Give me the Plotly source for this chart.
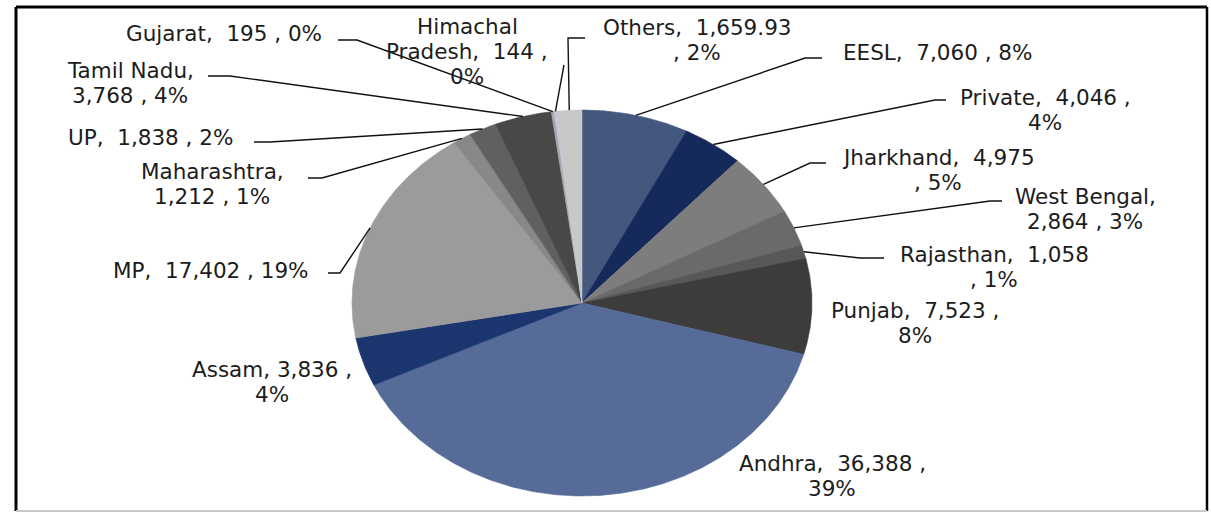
import numpy as np
import plotly.graph_objects as go

# ---- data -------------------------------------------------------------
categories = ["EESL", "Private", "Jharkhand", "West Bengal", "Rajasthan", "Punjab",
              "Andhra", "Assam", "MP", "Maharashtra", "UP", "Tamil Nadu",
              "Gujarat", "Himachal Pradesh", "Others"]
values = [7060, 4046, 4975, 2864, 1058, 7523, 36388, 3836, 17402, 1212, 1838, 3768,
          195, 144, 1659.93]
colors = ["#44587f", "#15295b", "#7d7d7d", "#6a6a6a", "#585858", "#3c3c3c",
          "#566b98", "#1b356f", "#9b9b9b", "#888888", "#606060", "#484848",
          "#a9a9a9", "#c3c8d8", "#c8c8c8"]

# ---- geometry (pixel-like axis space, y grows downward) ----------------
W, H = 1211, 513
CX, CY, RX, RY = 582, 303, 230, 193

# label block centre, text layout and leader path (knee, end) per category
label_layout = {
    "EESL":             dict(c=(937, 52),  t="{n},  {v} , {p}",       lead=[(805, 58), (822, 58)]),
    "Private":          dict(c=(1045, 110), t="{n},  {v} ,<br>{p}",   lead=[(935, 100), (946, 100)]),
    "Jharkhand":        dict(c=(938, 170), t="{n},  {v}<br>, {p}",    lead=[(810, 163), (826, 163)]),
    "West Bengal":      dict(c=(1085, 209), t="{n},<br>{v} , {p}",    lead=[(990, 201), (1002, 201)]),
    "Rajasthan":        dict(c=(994, 267), t="{n},  {v}<br>, {p}",    lead=[(860, 258), (884, 258)]),
    "Punjab":           dict(c=(915, 323), t="{n},  {v} ,<br>{p}",    lead=None),
    "Andhra":           dict(c=(832, 476), t="{n},  {v} ,<br>{p}",    lead=None),
    "Assam":            dict(c=(272, 382), t="{n}, {v} ,<br>{p}",     lead=None),
    "MP":               dict(c=(211, 270), t="{n},  {v} , {p}",       lead=[(340, 273), (328, 273)]),
    "Maharashtra":      dict(c=(212, 184), t="{n},<br>{v} , {p}",     lead=[(322, 178), (308, 178)]),
    "UP":               dict(c=(150, 137), t="{n},  {v} , {p}",       lead=[(270, 142), (254, 142)]),
    "Tamil Nadu":       dict(c=(130, 83),  t="{n},<br>{v} , {p}",     lead=[(230, 76), (208, 76)]),
    "Gujarat":          dict(c=(224, 33),  t="{n},  {v} , {p}",       lead=[(357, 40), (338, 40)]),
    "Himachal Pradesh": dict(c=(467, 51),  t="{n},  {v} ,<br>{p}",    lead=[(564, 65)], wrap_name=True),
    "Others":           dict(c=(697, 40),  t="{n},  {v}<br>, {p}",    lead=[(568, 38), (585, 38)]),
}

FONT = dict(family="DejaVu Sans, Liberation Sans, Arial, sans-serif", size=21.5, color="#1c1c1c")
LINE_GAP = 25


def fmt_value(v):
    s = f"{v:,.2f}"
    return s.rstrip("0").rstrip(".") if "." in s else s


def ellipse_pt(deg):
    a = np.radians(deg)
    return CX + RX * np.sin(a), CY - RY * np.cos(a)


vals = np.array(values, dtype=float)
total = vals.sum()
ends = np.cumsum(vals) / total * 360.0
starts = np.concatenate([[0.0], ends[:-1]])

fig = go.Figure()

# pie slices, clockwise from 12 o'clock
for name, a0, a1, col in zip(categories, starts, ends, colors):
    th = np.linspace(a0, a1, max(3, int((a1 - a0) * 2) + 2))
    px, py = ellipse_pt(th)
    xs = np.concatenate([[CX], px, [CX]])
    ys = np.concatenate([[CY], py, [CY]])
    fig.add_trace(go.Scatter(x=xs, y=ys, mode="lines", fill="toself",
                             fillcolor=col, line=dict(color=col, width=0.6),
                             hoverinfo="skip", showlegend=False))

# leader lines and labels
annotations = []
for name, v, a0, a1 in zip(categories, values, starts, ends):
    spec = label_layout[name]
    mid = (a0 + a1) / 2.0
    if spec["lead"]:
        ex, ey = ellipse_pt(mid)
        xs = [ex] + [p[0] for p in spec["lead"]]
        ys = [ey] + [p[1] for p in spec["lead"]]
        fig.add_trace(go.Scatter(x=xs, y=ys, mode="lines",
                                 line=dict(color="#111111", width=1.4),
                                 hoverinfo="skip", showlegend=False))
    n = name.replace(" ", "<br>") if spec.get("wrap_name") else name
    pct = f"{round(v / total * 100):d}%"
    text = spec["t"].format(n=n, v=fmt_value(v), p=pct)
    lines = text.split("<br>")
    cx, cy = spec["c"]
    for i, ln in enumerate(lines):
        annotations.append(dict(x=cx, y=cy + (i - (len(lines) - 1) / 2) * LINE_GAP,
                                xref="x", yref="y", text=ln, showarrow=False,
                                xanchor="center", yanchor="middle", font=FONT))

# outer frame
shapes = [
    dict(type="line", x0=16, x1=16, y0=7, y1=511, line=dict(color="#000000", width=3)),
    dict(type="line", x0=16, x1=1207, y0=7, y1=7, line=dict(color="#000000", width=3)),
    dict(type="line", x0=1207, x1=1207, y0=7, y1=511, line=dict(color="#000000", width=2.5)),
    dict(type="line", x0=16, x1=1207, y0=511, y1=511, line=dict(color="#c8c8c8", width=2)),
]

fig.update_layout(
    width=W, height=H,
    margin=dict(l=0, r=0, t=0, b=0),
    paper_bgcolor="white", plot_bgcolor="white",
    xaxis=dict(range=[0, W], visible=False, fixedrange=True),
    yaxis=dict(range=[H, 0], visible=False, fixedrange=True),
    annotations=annotations, shapes=shapes,
    showlegend=False,
)

fig.write_html("out.html", config={"displayModeBar": False})
